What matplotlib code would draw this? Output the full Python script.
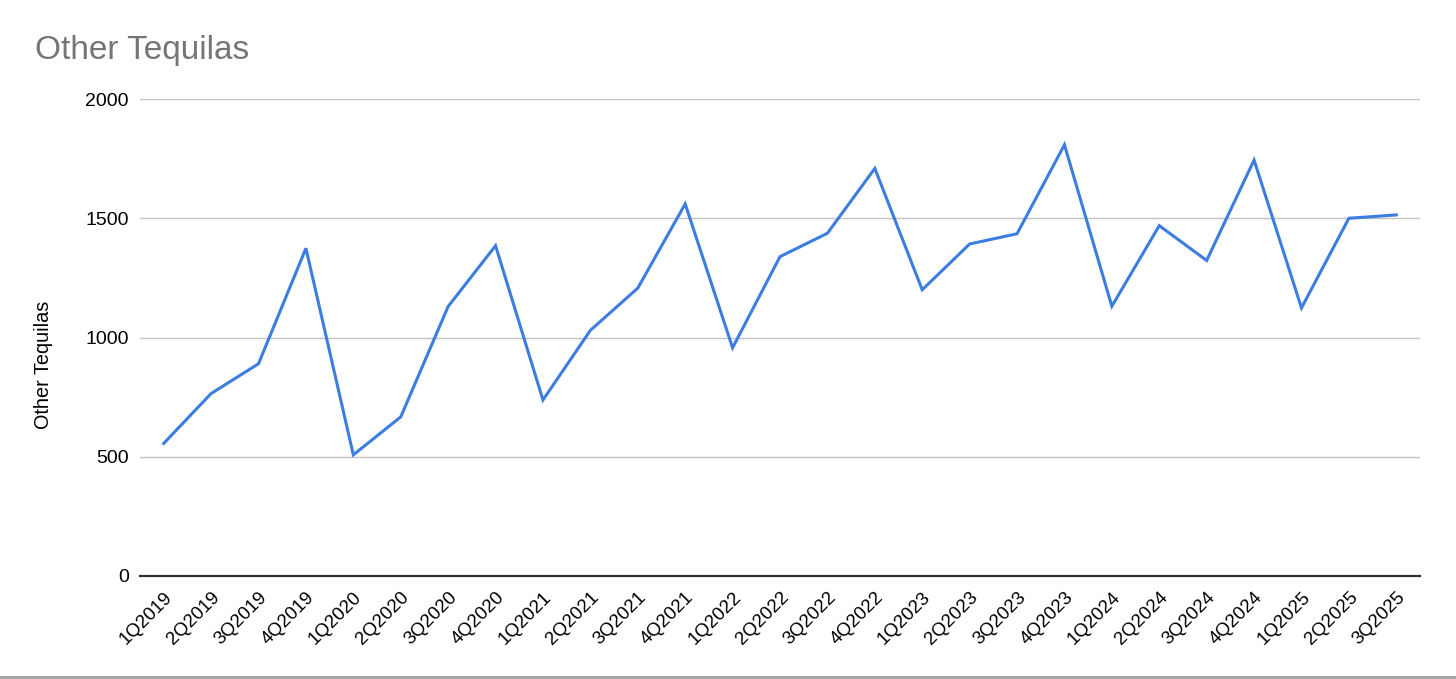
import matplotlib.pyplot as plt
import numpy as np

plt.rcParams['font.family'] = ['Liberation Sans', 'DejaVu Sans']

quarters = ['1Q2019', '2Q2019', '3Q2019', '4Q2019',
            '1Q2020', '2Q2020', '3Q2020', '4Q2020',
            '1Q2021', '2Q2021', '3Q2021', '4Q2021',
            '1Q2022', '2Q2022', '3Q2022', '4Q2022',
            '1Q2023', '2Q2023', '3Q2023', '4Q2023',
            '1Q2024', '2Q2024', '3Q2024', '4Q2024',
            '1Q2025', '2Q2025', '3Q2025']
other_tequilas = [556, 765, 890, 1374,
                  508, 667, 1130, 1385,
                  738, 1030, 1207, 1560,
                  957, 1339, 1437, 1709,
                  1200, 1392, 1435, 1808,
                  1131, 1469, 1323, 1744,
                  1124, 1500, 1514]
yticks = [0, 500, 1000, 1500, 2000]

fig = plt.figure(figsize=(14.56, 6.79), dpi=100)
ax = fig.add_axes([140 / 1456, 103 / 679, 1280 / 1456, 477 / 679])

x = np.arange(len(quarters))
ax.plot(x, other_tequilas, color='#3c7de0', linewidth=2.2, solid_joinstyle='miter')

ax.set_xlim(-0.5, len(quarters) - 0.5)
ax.set_ylim(0, 2000)
ax.set_yticks(yticks)
ax.set_yticklabels([str(v) for v in yticks], fontsize=14)
ax.set_xticks(x)
ax.set_xticklabels(quarters, rotation=45, ha='right', rotation_mode='anchor', fontsize=13.5)
ax.tick_params(axis='y', length=0, pad=8)
ax.tick_params(axis='x', length=0, pad=9)

ax.grid(axis='y', color='#c2c2c2', linewidth=1)
ax.set_axisbelow(True)
for s in ['top', 'right', 'left']:
    ax.spines[s].set_visible(False)
ax.spines['bottom'].set_color('#333333')
ax.spines['bottom'].set_linewidth(1.6)

ax.set_ylabel('Other Tequilas', fontsize=14.3)
ax.yaxis.set_label_coords(-0.068, 0.442)

fig.text(35 / 1456, 1 - 50 / 679, 'Other Tequilas', fontsize=24, color='#757575', va='center')

# thin gray rule along the bottom edge
fig.add_artist(plt.Line2D([0, 1], [2 / 679, 2 / 679], color='#a0a0a0', linewidth=2))

fig.savefig('out.png', dpi=100)
